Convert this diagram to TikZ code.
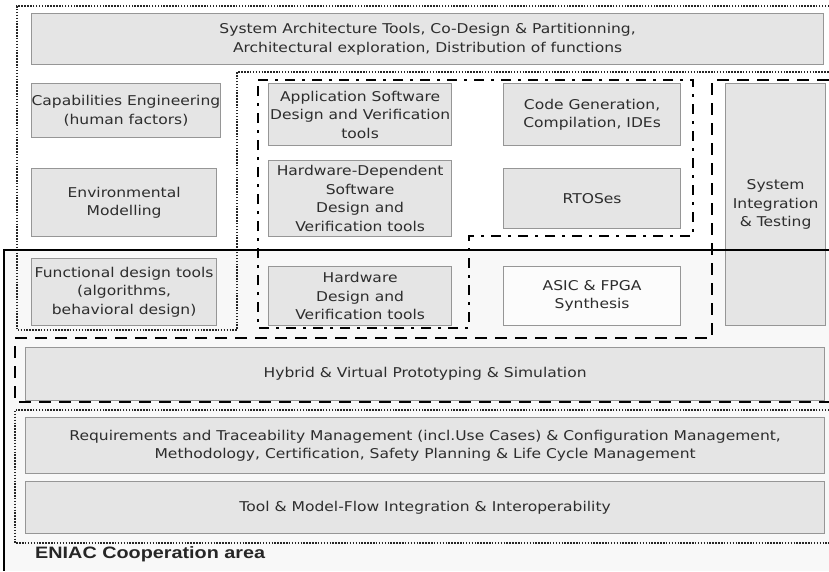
\documentclass[tikz,border=0pt]{standalone}
\usepackage{fontspec}
\setmainfont[FakeStretch=1.15]{DejaVu Sans}
\newfontfamily\labelfont[FakeStretch=1.2]{Liberation Sans}
\definecolor{boxfill}{RGB}{229,229,229}
\definecolor{boxline}{RGB}{150,150,150}
\definecolor{txt}{RGB}{45,45,45}
\definecolor{areafill}{RGB}{248,248,248}
\begin{document}
\begin{tikzpicture}[x=1pt,y=-1pt,
  box/.style={draw=boxline, line width=1.2pt, fill=boxfill, anchor=north west, inner sep=0pt, align=center, text=txt, font=\fontsize{13.5}{18.5}\selectfont},
  whitebox/.style={box, fill=white!60!areafill},
  dotline/.style={draw=black!85, line width=2.2pt, dash pattern=on 1.5pt off 1.4pt},
  dashdotline/.style={draw=black, line width=2pt, dash pattern=on 10pt off 7pt on 3pt off 7pt},
  dashline/.style={draw=black, line width=2pt, dash pattern=on 12pt off 8pt},
  solidline/.style={draw=black, line width=2pt}]
\useasboundingbox (0,0) rectangle (829,571);
\fill[areafill] (4,250) rectangle (829,571);
% boxes
\node[box, minimum width=792, minimum height=51] (sysarch) at (31,13) {System Architecture Tools, Co-Design \& Partitionning,\\Architectural exploration, Distribution of functions};
\node[box, minimum width=184, minimum height=54] (capab) at (31,83) {Capabilities Engineering\\(human factors)};
\node[box, minimum width=183, minimum height=62] (appsw) at (268,83) {Application Software\\Design and Verification\\tools};
\node[box, minimum width=177, minimum height=62] (codegen) at (503,83) {Code Generation,\\Compilation, IDEs};
\node[box, minimum width=100, minimum height=242] (sysint) at (725,83) {System\\Integration\\\& Testing};
\node[box, minimum width=185, minimum height=68] (envmod) at (31,168) {Environmental\\Modelling};
\node[box, minimum width=183, minimum height=76] (hds) at (268,160) {Hardware-Dependent\\Software\\Design and\\Verification tools};
\node[box, minimum width=177, minimum height=60] (rtos) at (503,168) {RTOSes};
\node[box, minimum width=185, minimum height=67] (func) at (31,258) {Functional design tools\\(algorithms,\\behavioral design)};
\node[box, minimum width=183, minimum height=59] (hwdes) at (268,266) {Hardware\\Design and\\Verification tools};
\node[whitebox, minimum width=177, minimum height=59] (asic) at (503,266) {ASIC \& FPGA\\Synthesis};
\node[box, minimum width=799, minimum height=53] (hybrid) at (25,347) {Hybrid \& Virtual Prototyping \& Simulation};
\node[box, minimum width=799, minimum height=56] (req) at (25,417) {Requirements and Traceability Management (incl.Use Cases) \& Configuration Management,\\Methodology, Certification, Safety Planning \& Life Cycle Management};
\node[box, minimum width=799, minimum height=52] (toolflow) at (25,481) {Tool \& Model-Flow Integration \& Interoperability};
% region borders
\draw[dotline] (829,6) -- (17,6) -- (17,330) -- (237,330) -- (237,72) -- (829,72);
\draw[dashdotline] (258,80) -- (693,80) -- (693,236) -- (469,236) -- (469,328) -- (258,328) -- cycle;
\draw[dashline] (829,80) -- (712,80) -- (712,338) -- (15,338) -- (15,402) -- (829,402);
\draw[dotline] (829,410) -- (15,410) -- (15,543) -- (829,543);
\draw[solidline] (829,250) -- (4,250) -- (4,571);
\node[anchor=west, inner sep=0pt, text=black!85, font=\labelfont\bfseries\fontsize{16.5}{18}\selectfont] (eniac) at (35,554) {ENIAC Cooperation area};
\end{tikzpicture}
\end{document}
